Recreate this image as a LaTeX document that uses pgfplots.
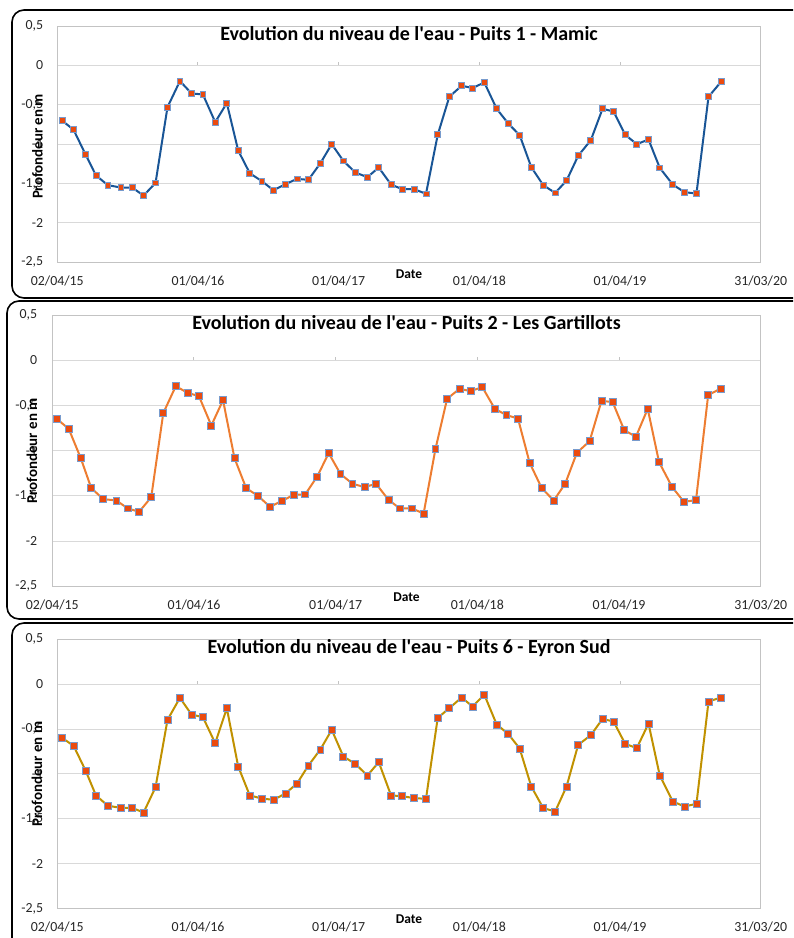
\documentclass[border=0pt]{standalone}
\usepackage{pgfplots}
\pgfplotsset{compat=1.18}
\usepackage{pgfplotstable}
\usepackage{fontspec}
\setmainfont{Carlito}
\definecolor{lblue}{RGB}{25,85,150}
\definecolor{lorange}{RGB}{237,125,49}
\definecolor{lgold}{RGB}{192,145,0}
\definecolor{mfill}{RGB}{235,75,15}
\definecolor{mdraw}{RGB}{120,155,205}
\definecolor{gridgray}{RGB}{217,217,217}
\definecolor{boxgray}{RGB}{195,195,195}

\pgfplotstableread{
x p1 p2 p3
0.40 -0.699 -0.649 -0.597
1.39 -0.818 -0.756 -0.686
2.41 -1.131 -1.081 -0.961
3.30 -1.398 -1.413 -1.239
4.32 -1.521 -1.535 -1.354
5.43 -1.551 -1.550 -1.377
6.39 -1.551 -1.638 -1.377
7.36 -1.653 -1.675 -1.429
8.38 -1.492 -1.513 -1.147
9.40 -0.530 -0.583 -0.397
10.46 -0.199 -0.284 -0.152
11.45 -0.356 -0.358 -0.338
12.42 -0.369 -0.395 -0.367
13.47 -0.720 -0.720 -0.657
14.46 -0.479 -0.439 -0.267
15.43 -1.081 -1.081 -0.917
16.42 -1.369 -1.413 -1.239
17.45 -1.470 -1.502 -1.273
18.44 -1.585 -1.620 -1.288
19.46 -1.508 -1.554 -1.217
20.45 -1.441 -1.487 -1.106
21.42 -1.453 -1.483 -0.905
22.44 -1.242 -1.284 -0.727
23.41 -1.000 -1.026 -0.508
24.40 -1.212 -1.255 -0.805
25.42 -1.360 -1.365 -0.887
26.45 -1.419 -1.402 -1.017
27.42 -1.297 -1.365 -0.868
28.47 -1.513 -1.542 -1.239
29.43 -1.572 -1.638 -1.247
30.45 -1.572 -1.638 -1.269
31.45 -1.631 -1.694 -1.276
32.45 -0.881 -0.982 -0.375
33.44 -0.398 -0.424 -0.267
34.49 -0.258 -0.314 -0.148
35.43 -0.288 -0.339 -0.249
36.42 -0.216 -0.295 -0.115
37.48 -0.551 -0.535 -0.449
38.46 -0.737 -0.605 -0.553
39.44 -0.886 -0.642 -0.716
40.43 -1.292 -1.133 -1.139
41.45 -1.521 -1.413 -1.380
42.47 -1.619 -1.550 -1.417
43.44 -1.462 -1.365 -1.139
44.43 -1.148 -1.022 -0.675
45.51 -0.949 -0.893 -0.568
46.51 -0.551 -0.450 -0.386
47.45 -0.585 -0.458 -0.416
48.44 -0.881 -0.771 -0.664
49.43 -1.000 -0.845 -0.712
50.43 -0.941 -0.535 -0.438
51.39 -1.301 -1.125 -1.017
52.50 -1.513 -1.402 -1.306
53.50 -1.610 -1.565 -1.362
54.52 -1.627 -1.546 -1.332
55.55 -0.398 -0.384 -0.193
56.62 -0.208 -0.310 -0.148
}\wells

\pgfplotsset{
  well/.style={
    scale only axis,
    xmin=0, xmax=60, ymin=-2.5, ymax=0.5,
    xtick={0,12,24,36,48,60},
    xticklabels={02/04/15,01/04/16,01/04/17,01/04/18,01/04/19,31/03/20},
    ytick={-2.5,-2,-1.5,-1,-0.5,0,0.5},
    yticklabels={{-2,5},{-2},{-1,5},{-1},{-0,5},{0},{0,5}},
    major tick length=0pt,
    ymajorgrids,
    grid style={gridgray, line width=0.75pt},
    axis line style={boxgray, line width=0.75pt},
    tick label style={font=\fontsize{10.4}{12}\selectfont, text=black!85},
    xticklabel style={anchor=center, yshift=-14pt},
    yticklabel style={anchor=east, inner sep=0pt},
    title style={font=\bfseries\fontsize{15}{18}\selectfont, anchor=center, at={(axis description cs:0.5,1)}},
    xlabel={Date},
    xlabel style={font=\bfseries\fontsize{10.1}{12}\selectfont, at={(axis description cs:0.5,0)}, anchor=center},
    ylabel={Profondeur en m},
    ylabel style={font=\bfseries\fontsize{11.2}{13}\selectfont, anchor=center},
    clip=false,
  },
  wline/.style={line width=1.5pt, mark=square*, mark size=#1,
    mark options={fill=mfill, draw=mdraw, line width=0.6pt}},
}

\begin{document}
\begin{tikzpicture}
% Panel 1
\begin{axis}[well, at={(42.975pt,506.775pt)}, anchor=south west,
  width=527.55pt, height=177.2pt,
  title={Evolution du niveau de l\textquotesingle eau - Puits 1 - Mamic},
  title style={yshift=-12pt},
  xlabel style={yshift=-8.8pt},
  yticklabel style={xshift=-10.35pt},
  ylabel style={at={(axis description cs:-0.0284,0.49)}}]
\draw[boxgray, line width=0.75pt] (axis cs:12,0) -- ++(0pt,2.5pt) (axis cs:24,0) -- ++(0pt,2.5pt) (axis cs:36,0) -- ++(0pt,2.5pt) (axis cs:48,0) -- ++(0pt,2.5pt);
\addplot[lblue, wline=2.2pt] table[x=x, y=p1] {\wells};
\end{axis}

% Panel 2
\begin{axis}[well, at={(39.225pt,263.775pt)}, anchor=south west,
  width=531.3pt, height=203.25pt,
  title={Evolution du niveau de l\textquotesingle eau - Puits 2 - Les Gartillots},
  title style={yshift=-11.5pt},
  xlabel style={yshift=-7.8pt},
  yticklabel style={xshift=-11.25pt},
  ylabel style={at={(axis description cs:-0.0287,0.5)}}]
\draw[boxgray, line width=0.75pt] (axis cs:12,0) -- ++(0pt,2.5pt) (axis cs:24,0) -- ++(0pt,2.5pt) (axis cs:36,0) -- ++(0pt,2.5pt) (axis cs:48,0) -- ++(0pt,2.5pt);
\addplot[lorange, wline=2.6pt] table[x=x, y=p2] {\wells};
\end{axis}

% Panel 3
\begin{axis}[well, at={(42.975pt,21.975pt)}, anchor=south west,
  width=527.55pt, height=202.05pt,
  title={Evolution du niveau de l\textquotesingle eau - Puits 6 - Eyron Sud},
  title style={yshift=-12.5pt},
  xlabel style={yshift=-8pt},
  xticklabel style={yshift=0.5pt},
  yticklabel style={xshift=-10.5pt},
  ylabel style={at={(axis description cs:-0.0289,0.5)}}]
\draw[boxgray, line width=0.75pt] (axis cs:12,0) -- ++(0pt,2.5pt) (axis cs:24,0) -- ++(0pt,2.5pt) (axis cs:36,0) -- ++(0pt,2.5pt) (axis cs:48,0) -- ++(0pt,2.5pt);
\addplot[lgold, wline=2.6pt] table[x=x, y=p3] {\wells};
\end{axis}

\begin{scope}[x=0.75pt,y=0.75pt]
\clip (0,0) rectangle (793,938);
\draw[black, line width=1.2pt, rounded corners=9pt] (12,640) rectangle (810,928);
\draw[black, line width=1.2pt, rounded corners=9pt] (7,319) rectangle (810,637);
\draw[black, line width=1.2pt, rounded corners=9pt] (12,-20) rectangle (810,315);
\end{scope}
\pgfresetboundingbox
\path[use as bounding box] (0pt,0pt) rectangle (594.75pt,703.5pt);
\end{tikzpicture}
\end{document}
